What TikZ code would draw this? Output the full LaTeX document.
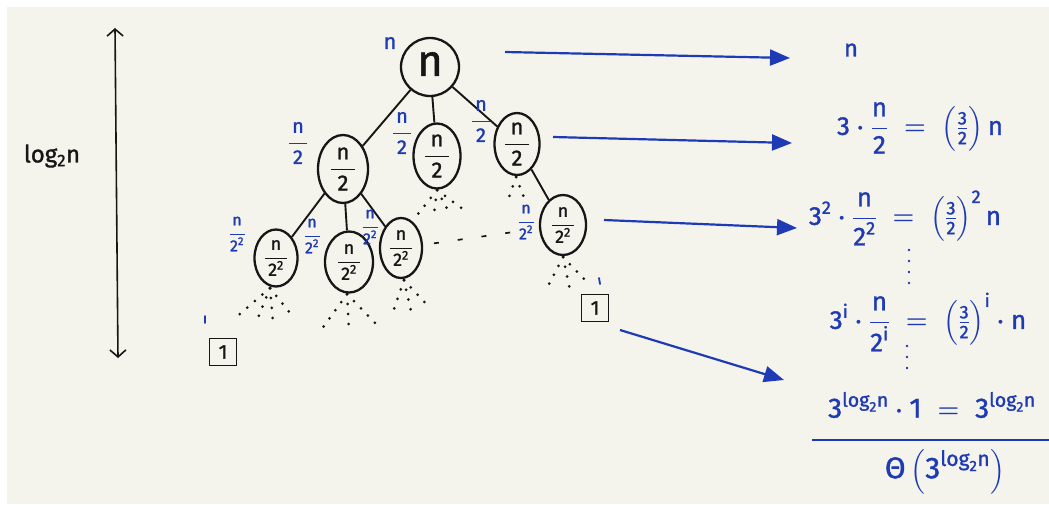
\documentclass[tikz,border=0pt]{standalone}
\usepackage{amsmath}
\usepackage{fontspec}
% marker strokes: bold is the regular face, thickened
\setmainfont{Fira Sans}[BoldFont={Fira Sans}, BoldFeatures={FakeBold=1.3}]
\usetikzlibrary{arrows.meta,shapes.geometric}
\definecolor{ink}{RGB}{22,22,22}
\definecolor{pen}{RGB}{30,58,180}
\definecolor{paper}{RGB}{244,244,236}
\newcommand\tx[1]{\text{#1}}
\newcommand\fs[1]{\fontsize{#1}{#1}\selectfont\bfseries\boldmath}
% fraction with a fixed-width bar, as written inside the nodes
\newcommand\wfrac[3]{\dfrac{\makebox[#1]{#2}}{\makebox[#1]{#3}}}
\begin{document}
\begin{tikzpicture}[x=1pt,y=-1pt,
  egg/.style={ellipse, draw=ink, line width=2.3pt, inner sep=0pt},
  leaf/.style={rectangle, draw=ink, line width=1.7pt, minimum size=27pt, inner sep=0pt, text=ink, font=\fs{20}},
  inktext/.style={text=ink, inner sep=0pt},
  pentext/.style={text=pen, inner sep=0pt},
  edge/.style={draw=ink, line width=1.9pt},
  dotray/.style={draw=ink, line width=3pt, line cap=round, dash pattern=on 0pt off 10pt},
  sumarrow/.style={draw=pen, line width=2.2pt, -{Triangle[length=20pt,width=16pt]}},
  tick/.style={draw=pen, line width=1.8pt, line cap=round}]

% paper
\fill[white] (0,0) rectangle (1049,504);
\fill[paper] (7,7) rectangle (1049,504);
\useasboundingbox (0,0) rectangle (1049,504);

% height of the tree
\coordinate (htop) at (115,28);
\coordinate (hbot) at (118,358);
\draw[ink, line width=1.6pt, {Straight Barb[length=7pt,width=16pt]}-{Straight Barb[length=7pt,width=16pt]}] (htop) -- (hbot);
\node[inktext, font=\fs{24}] (depth) at (52,156) {log$_{\tx{2}}$n};

% root
\node[circle, draw=ink, line width=2.3pt, minimum size=58pt, inner sep=0pt] (root) at (430,67) {};
\node[inktext, font=\fs{44}] at (430,64) {n};
\node[pentext, font=\fs{22}] (rootlab) at (390,43) {n};

% level 1
\node[egg, minimum width=50pt, minimum height=68pt] (l1a) at (343,169) {};
\node[egg, minimum width=47pt, minimum height=65pt] (l1b) at (437,156) {};
\node[egg, minimum width=45pt, minimum height=62pt] (l1c) at (517,144) {};
\foreach \n in {l1a,l1b,l1c}
  \node[inktext, font=\fs{22}] at (\n) {$\wfrac{24pt}{n}{2}$};

\draw[edge] (root) -- (l1a);
\draw[edge] (root) -- (l1b);
\draw[edge] (root) -- (l1c);

\node[pentext, font=\fs{20}] (lab1a) at (298,143) {$\wfrac{18pt}{n}{2}$};
\node[pentext, font=\fs{20}] (lab1b) at (402,133) {$\wfrac{18pt}{n}{2}$};
\node[pentext, font=\fs{20}] (lab1c) at (481,121) {$\wfrac{18pt}{n}{2}$};

% level 2
\node[egg, minimum width=43pt, minimum height=57pt] (l2a) at (276,258) {};
\node[egg, minimum width=48pt, minimum height=61pt] (l2b) at (349,262) {};
\node[egg, minimum width=42pt, minimum height=60pt] (l2c) at (401,248) {};
\node[egg, minimum width=46pt, minimum height=60pt] (l2d) at (563,225) {};
\foreach \n in {l2a,l2b,l2c,l2d}
  \node[inktext, font=\fs{18}] at (\n) {$\wfrac{22pt}{n}{2\textsuperscript{2}}$};

\draw[edge] (l1a) -- (l2a);
\draw[edge] (l1a) -- (l2b);
\draw[edge] (l1a) -- (l2c);
\draw[edge] (l1c) -- (l2d);
\draw[ink, line width=1.7pt, dash pattern=on 5pt off 19pt, shorten <=11pt, shorten >=26pt] (l2c) -- (l2d);

\node[pentext, font=\fs{16}] (lab2a) at (237,234) {$\wfrac{15pt}{n}{2\textsuperscript{2}}$};
\node[pentext, font=\fs{16}] (lab2b) at (312,236) {$\wfrac{15pt}{n}{2\textsuperscript{2}}$};
\node[pentext, font=\fs{16}] (lab2c) at (370,227) {$\wfrac{15pt}{n}{2\textsuperscript{2}}$};
\node[pentext, font=\fs{16}] (lab2d) at (526,222) {$\wfrac{15pt}{n}{2\textsuperscript{2}}$};

% remaining levels, left as dots
\coordinate (d1b) at (437,190);
\draw[dotray] (d1b) -- (418,214); \draw[dotray] (d1b) -- (434,214);
\draw[dotray] (d1b) -- (450,214); \draw[dotray] (d1b) -- (464,210);
\coordinate (d1c) at (516,177);
\draw[dotray] (d1c) -- (508,200); \draw[dotray] (d1c) -- (525,200);
\coordinate (d2a) at (270,288);
\draw[dotray] (d2a) -- (233,320); \draw[dotray] (d2a) -- (258,318);
\draw[dotray] (d2a) -- (273,322); \draw[dotray] (d2a) -- (294,318);
\coordinate (d2b) at (347,294);
\draw[dotray] (d2b) -- (321,330); \draw[dotray] (d2b) -- (349,330);
\draw[dotray] (d2b) -- (377,325);
\coordinate (d2c) at (404,280);
\draw[dotray] (d2c) -- (392,315); \draw[dotray] (d2c) -- (412,315);
\draw[dotray] (d2c) -- (430,308);
\coordinate (d2d) at (563,257);
\draw[dotray] (d2d) -- (546,290); \draw[dotray] (d2d) -- (570,290);
\draw[dotray] (d2d) -- (590,285);

% leaves
\node[leaf] (leafa) at (223,352) {1};
\node[leaf] (leafb) at (595,308) {1};
\draw[tick] (205,316) -- (205,323);
\draw[tick] (599,278) -- (600,284);

% per-level sums
\node[pentext, font=\fs{24}] (s0) at (851,50) {n};
\node[pentext, font=\fs{26}] (s1) at (920,128) {$\tx{3}\cdot\dfrac{\tx{n}}{\tx{2}} \;=\; \left(\frac{\tx{3}}{\tx{2}}\right)\tx{n}$};
\node[pentext, font=\fs{26}] (s2) at (905,218) {$\tx{3}^{\tx{2}}\cdot\dfrac{\tx{n}}{\tx{2}^{\tx{2}}} \;=\; \left(\frac{\tx{3}}{\tx{2}}\right)^{\tx{2}}\tx{n}$};
\node[pentext, font=\fs{26}] (si) at (928,322) {$\tx{3}^{\tx{i}}\cdot\dfrac{\tx{n}}{\tx{2}^{\tx{i}}} \;=\; \left(\frac{\tx{3}}{\tx{2}}\right)^{\tx{i}}\cdot\tx{n}$};
\node[pentext, font=\fs{28}] (sl) at (932,405) {$\tx{3}^{\tx{log}_{\tx{2}}\tx{n}}\cdot\tx{1} \;=\; \tx{3}^{\tx{log}_{\tx{2}}\tx{n}}$};
\node[pentext, font=\fs{30}] (total) at (945,472) {$\tx{Θ}\left(\tx{3}^{\tx{log}_{\tx{2}}\tx{n}}\right)$};
\draw[pen, line width=2.2pt] (812,440) -- (1049,440);

% vertical ellipses between the sums
\foreach \y in {250,261,272,283} \fill[pen] (909,\y) circle (1.4pt);
\foreach \y in {346,357,368} \fill[pen] (907,\y) circle (1.4pt);

% level arrows
\coordinate (a0s) at (505,52);  \coordinate (a0e) at (790,58);
\coordinate (a1s) at (553,137); \coordinate (a1e) at (792,143);
\coordinate (a2s) at (604,220); \coordinate (a2e) at (797,228);
\coordinate (a3s) at (620,330); \coordinate (a3e) at (784,380);
\draw[sumarrow] (a0s) -- (a0e);
\draw[sumarrow] (a1s) -- (a1e);
\draw[sumarrow] (a2s) -- (a2e);
\draw[sumarrow] (a3s) -- (a3e);
\end{tikzpicture}
\end{document}
